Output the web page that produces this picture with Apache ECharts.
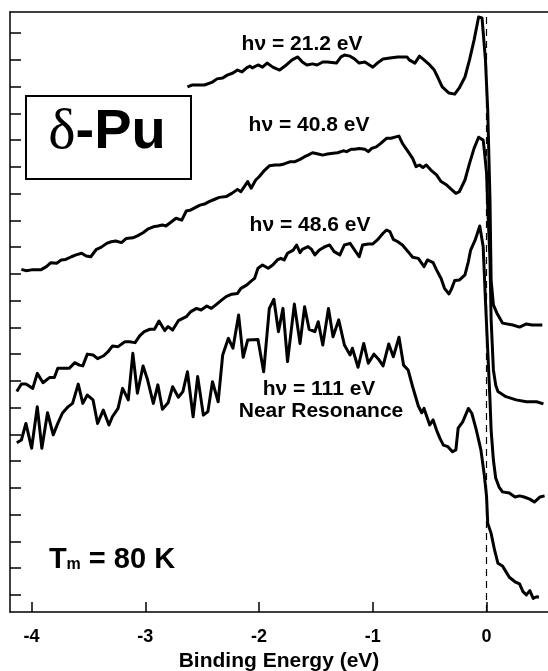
<!DOCTYPE html>
<html>
<head>
<meta charset="utf-8">
<script src="https://cdn.jsdelivr.net/npm/echarts@6/dist/echarts.min.js"></script>
<style>
html,body{margin:0;padding:0;background:#fff}
#main{width:548px;height:671px}
</style>
</head>
<body>
<div id="main"></div>
<script>
// delta-Pu photoemission, binding energy (eV) vs intensity (offset, arb. units)
var hv212 = [[-2.63,19.63],[-2.59,19.70],[-2.48,19.70],[-2.41,19.81],[-2.37,19.93],[-2.32,19.96],[-2.28,20.07],[-2.23,20.15],[-2.19,20.26],[-2.15,20.19],[-2.11,20.34],[-2.08,20.41],[-2.06,20.34],[-2.01,20.45],[-1.97,20.37],[-1.93,20.52],[-1.88,20.37],[-1.82,20.26],[-1.76,20.45],[-1.71,20.64],[-1.66,20.75],[-1.62,20.56],[-1.58,20.45],[-1.53,20.49],[-1.49,20.45],[-1.44,20.56],[-1.40,20.56],[-1.32,20.52],[-1.28,20.75],[-1.25,20.82],[-1.20,20.78],[-1.16,20.67],[-1.12,20.52],[-1.07,20.56],[-1.03,20.45],[-1.00,20.37],[-0.96,20.52],[-0.91,20.67],[-0.85,20.71],[-0.78,20.75],[-0.70,20.75],[-0.68,20.64],[-0.63,20.52],[-0.59,20.78],[-0.55,20.64],[-0.50,20.45],[-0.46,20.26],[-0.43,20.00],[-0.39,19.63],[-0.33,19.40],[-0.28,19.36],[-0.24,19.59],[-0.19,20.00],[-0.15,20.64],[-0.11,21.38],[-0.07,22.24],[-0.04,22.21],[-0.01,20.64],[0.01,18.77],[0.03,15.40],[0.04,12.41],[0.06,11.48],[0.09,11.18],[0.14,10.80],[0.23,10.73],[0.29,10.65],[0.35,10.77],[0.40,10.73],[0.49,10.73]];

var hv408 = [[-4.09,12.81],[-4.05,12.76],[-4.00,12.79],[-3.92,12.79],[-3.87,12.91],[-3.83,13.06],[-3.78,13.04],[-3.74,13.16],[-3.70,13.18],[-3.65,13.28],[-3.61,13.35],[-3.56,13.41],[-3.52,13.31],[-3.48,13.28],[-3.43,13.56],[-3.39,13.63],[-3.34,13.78],[-3.30,13.84],[-3.26,13.87],[-3.21,13.81],[-3.17,13.96],[-3.11,13.99],[-3.07,14.06],[-3.02,14.18],[-2.98,14.31],[-2.93,14.40],[-2.89,14.43],[-2.85,14.47],[-2.82,14.43],[-2.77,14.59],[-2.73,14.72],[-2.68,14.65],[-2.64,14.99],[-2.60,15.03],[-2.52,15.21],[-2.48,15.25],[-2.44,15.34],[-2.39,15.43],[-2.35,15.50],[-2.29,15.53],[-2.24,15.65],[-2.19,15.80],[-2.16,15.71],[-2.13,15.90],[-2.10,16.09],[-2.07,15.84],[-2.03,16.15],[-2.00,16.27],[-1.95,16.52],[-1.91,16.68],[-1.86,16.71],[-1.82,16.71],[-1.78,16.75],[-1.73,16.83],[-1.69,16.83],[-1.64,16.92],[-1.60,17.02],[-1.57,17.08],[-1.53,17.17],[-1.48,17.12],[-1.44,17.08],[-1.40,17.12],[-1.35,17.15],[-1.31,17.17],[-1.26,17.24],[-1.23,17.21],[-1.19,17.30],[-1.16,17.30],[-1.12,17.33],[-1.07,17.30],[-1.04,17.21],[-1.01,17.33],[-0.97,17.39],[-0.93,17.52],[-0.88,17.71],[-0.84,17.71],[-0.79,17.77],[-0.77,17.79],[-0.74,17.52],[-0.69,17.21],[-0.65,16.96],[-0.62,16.65],[-0.59,16.71],[-0.56,16.62],[-0.53,16.71],[-0.49,16.52],[-0.44,16.34],[-0.40,16.09],[-0.35,15.96],[-0.31,15.80],[-0.27,15.65],[-0.24,15.71],[-0.19,16.15],[-0.15,16.77],[-0.11,17.33],[-0.07,17.75],[-0.03,17.64],[-0.02,17.27],[0.00,16.40],[0.01,15.15],[0.03,13.16],[0.04,10.92],[0.06,9.05],[0.08,8.49],[0.10,8.24],[0.17,8.05],[0.26,7.93],[0.35,7.86],[0.44,7.86],[0.50,7.78]];

var hv486 = [[-4.13,8.24],[-4.09,8.52],[-4.05,8.52],[-3.99,8.36],[-3.95,8.92],[-3.90,8.57],[-3.84,8.77],[-3.80,8.77],[-3.77,9.11],[-3.71,9.11],[-3.67,9.11],[-3.62,9.32],[-3.58,9.23],[-3.55,9.20],[-3.51,9.64],[-3.46,9.61],[-3.42,9.47],[-3.37,9.57],[-3.33,9.72],[-3.29,9.94],[-3.24,9.92],[-3.18,10.10],[-3.14,10.10],[-3.09,10.07],[-3.05,10.32],[-3.01,10.48],[-2.96,10.57],[-2.92,10.57],[-2.88,10.88],[-2.83,10.52],[-2.80,10.67],[-2.76,10.54],[-2.71,10.89],[-2.64,11.04],[-2.60,11.23],[-2.55,11.35],[-2.51,11.29],[-2.46,11.44],[-2.42,11.35],[-2.38,11.48],[-2.33,11.66],[-2.29,11.79],[-2.24,11.88],[-2.19,11.91],[-2.16,12.10],[-2.11,12.22],[-2.07,12.37],[-2.04,12.47],[-2.01,12.85],[-1.97,12.97],[-1.92,12.85],[-1.88,12.97],[-1.84,13.16],[-1.81,13.22],[-1.78,13.16],[-1.75,13.41],[-1.70,13.53],[-1.67,13.72],[-1.64,13.43],[-1.62,13.56],[-1.57,13.66],[-1.54,13.56],[-1.51,13.35],[-1.47,13.53],[-1.42,13.66],[-1.38,13.72],[-1.34,13.47],[-1.29,13.35],[-1.25,13.72],[-1.20,13.78],[-1.12,13.28],[-1.09,13.72],[-1.04,13.76],[-1.00,13.76],[-0.96,13.91],[-0.91,14.16],[-0.88,14.28],[-0.85,14.22],[-0.82,13.93],[-0.78,13.84],[-0.74,13.72],[-0.69,13.47],[-0.65,13.26],[-0.60,13.22],[-0.55,12.91],[-0.52,13.16],[-0.47,13.06],[-0.44,12.79],[-0.40,12.47],[-0.37,12.10],[-0.33,11.89],[-0.31,12.06],[-0.28,12.39],[-0.24,12.41],[-0.19,12.60],[-0.16,13.10],[-0.14,13.53],[-0.10,13.91],[-0.06,14.43],[-0.03,13.66],[-0.01,11.66],[0.01,9.79],[0.03,7.93],[0.04,6.80],[0.06,5.68],[0.08,5.01],[0.11,4.67],[0.14,4.49],[0.20,4.45],[0.25,4.30],[0.29,4.34],[0.33,4.30],[0.38,4.22],[0.42,4.11],[0.47,4.30],[0.51,4.34]];

var hv111 = [[-4.13,6.33],[-4.09,6.43],[-4.05,7.05],[-4.00,6.12],[-3.95,7.67],[-3.91,6.12],[-3.86,7.45],[-3.81,6.62],[-3.77,7.05],[-3.73,7.43],[-3.68,7.67],[-3.64,7.80],[-3.59,8.52],[-3.55,7.80],[-3.51,8.11],[-3.46,7.93],[-3.42,7.05],[-3.37,7.55],[-3.32,6.99],[-3.29,7.30],[-3.24,7.61],[-3.20,8.36],[-3.15,7.93],[-3.11,9.67],[-3.07,8.18],[-3.02,9.20],[-2.98,8.67],[-2.93,7.80],[-2.89,8.49],[-2.85,7.58],[-2.80,7.82],[-2.76,8.42],[-2.71,8.03],[-2.67,8.24],[-2.63,8.98],[-2.58,7.30],[-2.54,8.80],[-2.49,7.36],[-2.45,7.49],[-2.41,8.61],[-2.36,7.86],[-2.32,9.61],[-2.27,10.23],[-2.23,9.86],[-2.18,11.10],[-2.14,9.52],[-2.10,10.17],[-2.01,10.19],[-1.96,8.98],[-1.91,11.35],[-1.87,11.69],[-1.83,10.48],[-1.79,11.35],[-1.75,9.36],[-1.69,11.51],[-1.64,10.04],[-1.60,11.41],[-1.56,10.57],[-1.51,10.48],[-1.48,10.85],[-1.44,9.98],[-1.39,11.35],[-1.35,10.29],[-1.30,10.92],[-1.25,9.98],[-1.20,9.61],[-1.18,9.86],[-1.13,9.15],[-1.08,10.04],[-1.04,9.30],[-0.99,9.64],[-0.95,9.45],[-0.91,9.20],[-0.86,10.02],[-0.82,9.54],[-0.77,10.27],[-0.73,9.23],[-0.69,9.05],[-0.65,8.42],[-0.60,7.70],[-0.57,7.45],[-0.55,7.61],[-0.50,6.99],[-0.47,7.18],[-0.44,6.80],[-0.41,6.49],[-0.38,6.24],[-0.34,6.18],[-0.30,5.99],[-0.27,6.06],[-0.25,6.87],[-0.21,7.11],[-0.16,7.61],[-0.15,7.67],[-0.13,7.43],[-0.09,6.80],[-0.05,6.06],[-0.02,5.12],[0.00,4.31],[0.01,3.32],[0.04,2.94],[0.07,2.32],[0.10,1.82],[0.14,1.72],[0.17,1.51],[0.20,1.30],[0.25,1.13],[0.29,1.05],[0.32,0.76],[0.35,0.64],[0.38,0.80],[0.41,0.51],[0.44,0.57],[0.46,0.55]];

var xTicks = [-4, -3, -2, -1, 0];
var yTicks = [0.64,1.64,2.64,3.64,4.64,5.64,6.64,7.64,8.64,9.64,10.64,11.64,12.64,13.64,14.64,15.64,16.64,17.64,18.64,19.64,20.64,21.64];
var curveNames = ['hv = 21.2 eV', 'hv = 40.8 eV', 'hv = 48.6 eV', 'hv = 111 eV'];

var SANS = '"Liberation Sans", Arial, sans-serif';

function makeLine(name, data)
{
    return {
        name: name,
        type: 'line',
        data: data,
        showSymbol: false,
        symbol: 'none',
        lineStyle: {color: '#000', width: 3, join: 'round'},
        z: 3
    };
}

var series = [
    makeLine(curveNames[0], hv212),
    makeLine(curveNames[1], hv408),
    makeLine(curveNames[2], hv486),
    makeLine(curveNames[3], hv111)
];
// Fermi level
series[0].markLine = {
    silent: true,
    symbol: ['none', 'none'],
    label: {show: false},
    lineStyle: {color: '#000', width: 1.2, type: [7, 5]},
    data: [{xAxis: 0}]
};

var myChart = echarts.init(document.getElementById('main'));

var option = {
    animation: false,
    backgroundColor: '#fff',
    grid: {left: 10, right: 0, top: 12, bottom: 59, outerBoundsMode: 'none'},
    xAxis: [{
        type: 'value',
        min: -4.19,
        max: 0.54,
        name: 'Binding Energy (eV)',
        nameLocation: 'middle',
        nameGap: 38,
        nameTextStyle: {color: '#000', fontFamily: SANS, fontWeight: 'bold', fontSize: 21},
        axisLine: {onZero: false, lineStyle: {color: '#000', width: 1.5}},
        axisTick: {inside: true, length: 10, customValues: xTicks, lineStyle: {color: '#000', width: 1.5}},
        axisLabel: {customValues: xTicks, margin: 16, color: '#000', fontFamily: SANS, fontWeight: 'bold', fontSize: 18},
        splitLine: {show: false}
    }, {
        // top frame
        type: 'value',
        position: 'top',
        min: -4.19,
        max: 0.54,
        axisLine: {onZero: false, lineStyle: {color: '#000', width: 1.5}},
        axisTick: {show: false},
        axisLabel: {show: false},
        splitLine: {show: false}
    }],
    yAxis: {
        type: 'value',
        position: 'left',
        min: 0,
        max: 22.43,
        axisLine: {show: true, onZero: false, lineStyle: {color: '#000', width: 1.5}},
        axisTick: {show: true, inside: true, length: 11, customValues: yTicks, lineStyle: {color: '#000', width: 1.5}},
        axisLabel: {show: false},
        splitLine: {show: false}
    },
    graphic: [
        {type: 'rect', shape: {x: 26, y: 96, width: 165, height: 83}, style: {fill: '#fff', stroke: '#000', lineWidth: 2}, z: 10},
        {type: 'text', x: 107, y: 133, z: 11, style: {
            text: '{d|δ}{b|-Pu}', align: 'center', verticalAlign: 'middle',
            rich: {
                d: {fontFamily: '"Liberation Serif", "DejaVu Serif", serif', fontSize: 58, fill: '#000'},
                b: {fontFamily: SANS, fontWeight: 'bold', fontSize: 56, fill: '#000'}
            }
        }},
        {type: 'text', x: 302, y: 44, z: 11, style: {text: 'hν = 21.2 eV', font: 'bold 21px ' + SANS, fill: '#000', align: 'center', verticalAlign: 'middle'}},
        {type: 'text', x: 309, y: 125, z: 11, style: {text: 'hν = 40.8 eV', font: 'bold 21px ' + SANS, fill: '#000', align: 'center', verticalAlign: 'middle'}},
        {type: 'text', x: 310, y: 225, z: 11, style: {text: 'hν = 48.6 eV', font: 'bold 21px ' + SANS, fill: '#000', align: 'center', verticalAlign: 'middle'}},
        {type: 'text', x: 319, y: 389, z: 11, style: {text: 'hν = 111 eV', font: 'bold 21px ' + SANS, fill: '#000', align: 'center', verticalAlign: 'middle'}},
        {type: 'text', x: 321, y: 411, z: 11, style: {text: 'Near Resonance', font: 'bold 21px ' + SANS, fill: '#000', align: 'center', verticalAlign: 'middle'}},
        {type: 'text', x: 112, y: 560, z: 11, style: {
            text: '{t|T}{m|m}{t| = 80 K}', align: 'center', verticalAlign: 'middle',
            rich: {
                t: {fontFamily: SANS, fontWeight: 'bold', fontSize: 29, fill: '#000'},
                m: {fontFamily: SANS, fontWeight: 'bold', fontSize: 16, fill: '#000', padding: [10, 0, 0, 0]}
            }
        }}
    ],
    series: series
};
myChart.setOption(option);
</script>
</body>
</html>
